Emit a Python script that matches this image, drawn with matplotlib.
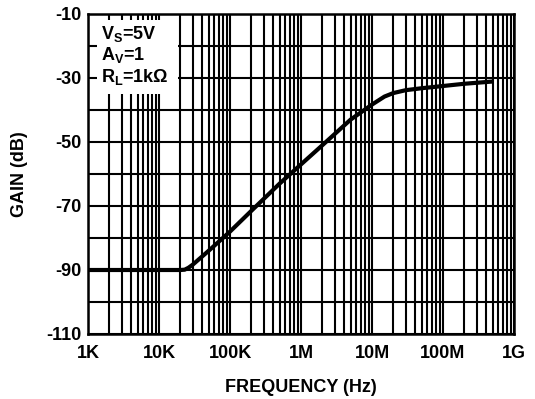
import matplotlib
matplotlib.use("Agg")
import matplotlib.pyplot as plt
from matplotlib.ticker import FixedLocator, LogLocator, NullFormatter, FixedFormatter
from matplotlib.patches import Rectangle
import numpy as np

plt.rcParams['font.family'] = ['Liberation Sans', 'DejaVu Sans']
plt.rcParams['font.weight'] = 'bold'
plt.rcParams['mathtext.fontset'] = 'custom'
plt.rcParams['mathtext.rm'] = 'Liberation Sans:bold'
plt.rcParams['mathtext.default'] = 'rm'

freq = [1e3, 1e4, 2e4, 2.3e4, 2.6e4, 3e4, 5e4, 1e5, 2e5, 5e5, 1e6, 2e6, 5e6, 1e7,
        1.5e7, 2e7, 3e7, 5e7, 1e8, 2e8, 5e8]
gain = [-90, -90, -90, -89.9, -89.3, -88.3, -84, -78, -71.5, -63, -57, -51, -43, -38.3,
        -35.8, -34.7, -33.8, -33.2, -32.5, -31.8, -31.1]

xticks = [1e3, 1e4, 1e5, 1e6, 1e7, 1e8, 1e9]
xlabels = ['1K', '10K', '100K', '1M', '10M', '100M', '1G']
yticks = [-110, -90, -70, -50, -30, -10]
ylabels = ['-110', '-90', '-70', '-50', '-30', '-10']

FS = 13

fig = plt.figure(figsize=(5.35, 3.99), dpi=100)
ax = fig.add_axes([88/535, 1 - 334/399, (514-88)/535, (334-14)/399])
ax.set_xscale('log')
ax.set_xlim(1e3, 1e9)
ax.set_ylim(-110, -10)

ax.xaxis.set_major_locator(FixedLocator(xticks))
ax.xaxis.set_major_formatter(FixedFormatter(xlabels))
ax.xaxis.set_minor_locator(LogLocator(base=10, subs=np.arange(2, 10), numticks=20))
ax.xaxis.set_minor_formatter(NullFormatter())
ax.yaxis.set_major_locator(FixedLocator(yticks))
ax.yaxis.set_major_formatter(FixedFormatter(ylabels))
ax.yaxis.set_minor_locator(FixedLocator(list(range(-100, -10, 20))))

ax.grid(True, which='both', color='black', linewidth=1.5)
ax.tick_params(which='both', length=0, labelsize=FS)
ax.tick_params(axis='x', pad=8)
ax.tick_params(axis='y', pad=5)
for s in ax.spines.values():
    s.set_linewidth(1.8)

ax.plot(freq, gain, color='black', linewidth=3, solid_capstyle='butt', zorder=3)

ax.add_patch(Rectangle((97/535, 1 - 94/399), (178-97)/535, (94-20)/399,
                       transform=fig.transFigure, facecolor='white', edgecolor='none',
                       zorder=4, clip_on=False))
fig.text(101/535, 1 - 34/399, r'V$_\mathrm{S}$=5V', fontsize=FS, fontweight='bold',
         va='center', ha='left', zorder=5)
fig.text(101/535, 1 - 55/399, r'A$_\mathrm{V}$=1', fontsize=FS, fontweight='bold',
         va='center', ha='left', zorder=5)
fig.text(101/535, 1 - 77/399, r'R$_\mathrm{L}$=1kΩ', fontsize=FS, fontweight='bold',
         va='center', ha='left', zorder=5)

ax.set_xlabel('FREQUENCY (Hz)', fontsize=FS, fontweight='bold')
ax.set_ylabel('GAIN (dB)', fontsize=FS, fontweight='bold')
ax.xaxis.set_label_coords(0.5, -(387-334)/320, transform=ax.transAxes)
ax.yaxis.set_label_coords(-(88-20)/426, 0.5, transform=ax.transAxes)
ax.xaxis.label.set_va('center')
ax.yaxis.label.set_va('center')

fig.savefig('out.png', dpi=100)
